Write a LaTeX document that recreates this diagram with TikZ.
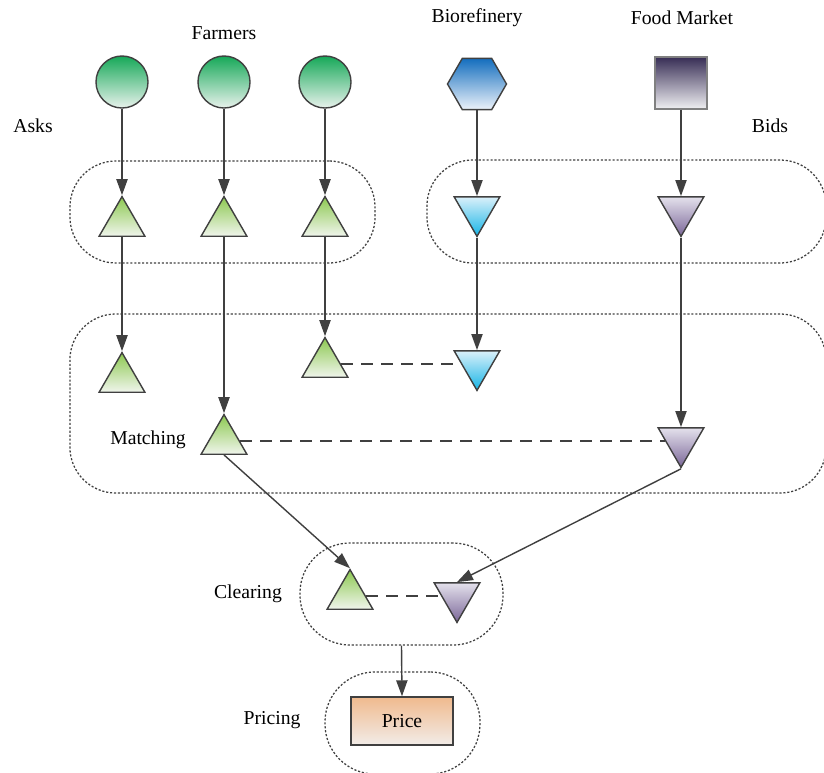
\documentclass[tikz,border=0pt]{standalone}
\usepackage{fontspec}
\setmainfont{Liberation Serif}
\usetikzlibrary{arrows.meta, positioning, shapes.geometric}

\definecolor{edgegray}{RGB}{64,64,64}
\definecolor{farmtop}{RGB}{22,168,88}
\definecolor{farmbot}{RGB}{232,242,236}
\definecolor{asktop}{RGB}{140,200,80}
\definecolor{askbot}{RGB}{240,245,236}
\definecolor{biotop}{RGB}{20,110,190}
\definecolor{biobot}{RGB}{236,242,250}
\definecolor{biobidtop}{RGB}{218,240,250}
\definecolor{biobidbot}{RGB}{20,180,230}
\definecolor{foodtop}{RGB}{55,45,85}
\definecolor{foodbot}{RGB}{240,240,242}
\definecolor{foodbidtop}{RGB}{228,225,236}
\definecolor{foodbidbot}{RGB}{122,102,152}
\definecolor{pricetop}{RGB}{240,186,142}
\definecolor{pricebot}{RGB}{242,236,232}

\begin{document}
\begin{tikzpicture}[
    x=0.025cm, y=-0.025cm,
    every node/.style={font=\fontsize{14}{16}\selectfont},
    farmer/.style={circle, draw=edgegray, line width=1pt, minimum size=1.3cm, inner sep=0pt, top color=farmtop, bottom color=farmbot},
    ask/.style={regular polygon, regular polygon sides=3, draw=edgegray, line width=1pt, minimum size=1.32cm, inner sep=0pt, top color=asktop, bottom color=askbot},
    biobid/.style={regular polygon, regular polygon sides=3, shape border rotate=180, draw=edgegray, line width=1pt, minimum size=1.32cm, inner sep=0pt, top color=biobidtop, bottom color=biobidbot},
    foodbid/.style={regular polygon, regular polygon sides=3, shape border rotate=180, draw=edgegray, line width=1pt, minimum size=1.32cm, inner sep=0pt, top color=foodbidtop, bottom color=foodbidbot},
    group/.style={rectangle, draw=edgegray, line width=0.9pt, dash pattern=on 1.5pt off 1.3pt, inner sep=0pt},
    arrow/.style={-{Triangle[length=0.4cm, width=0.28cm]}, line width=1pt, edgegray},
    match/.style={line width=1pt, edgegray, dash pattern=on 0.3cm off 0.2cm}
]

\useasboundingbox (0,0) rectangle (824,772);
\clip (0,0) rectangle (824,772);

% ============ GROUPS ============
\node[group, rounded corners=1.15cm, minimum width=7.625cm, minimum height=2.55cm] (askgrp) at (222.5,212) {};
\node[group, rounded corners=1.15cm, minimum width=9.975cm, minimum height=2.575cm] (bidgrp) at (626.5,211.5) {};
\node[group, rounded corners=1.15cm, minimum width=18.9cm, minimum height=4.475cm] (matchgrp) at (448,403.5) {};
\node[group, rounded corners=1.25cm, minimum width=5.075cm, minimum height=2.55cm] (cleargrp) at (401.5,594) {};
\node[group, rounded corners=1.25cm, minimum width=3.875cm, minimum height=2.55cm] (pricegrp) at (402.5,723) {};

% ============ LABELS ============
\node (farmlbl) at (224,33) {Farmers};
\node (biolbl) at (477,18) {Biorefinery};
\node (foodlbl) at (682,18) {Food Market};
\node (asklbl) at (33,126) {Asks};
\node (bidlbl) at (770,126) {Bids};
\node (matchlbl) at (148,440) {Matching};
\node (clearlbl) at (248,594) {Clearing};
\node (pricelbl) at (272,720) {Pricing};

% ============ PARTICIPANTS ============
\node[farmer] (f1) at (122,82) {};
\node[farmer] (f2) at (224,82) {};
\node[farmer] (f3) at (325,82) {};
\node[regular polygon, regular polygon sides=6, draw=edgegray, line width=1pt, minimum size=1.475cm, inner sep=0pt, top color=biotop, bottom color=biobot] (bio) at (477,84) {};
\node[rectangle, draw=gray, line width=1pt, minimum size=1.3cm, inner sep=0pt, top color=foodtop, bottom color=foodbot] (food) at (681,83) {};

% ============ ASKS AND BIDS ============
\node[ask] (a1) at (122,223) {};
\node[ask] (a2) at (224,223) {};
\node[ask] (a3) at (325,223) {};
\node[biobid] (b1) at (477,210) {};
\node[foodbid] (b2) at (681,210) {};

% ============ MATCHING ============
\node[ask] (ma1) at (122,379) {};
\node[ask] (ma2) at (224,441) {};
\node[ask] (ma3) at (325,364) {};
\node[biobid] (mb1) at (477,364) {};
\node[foodbid] (mb2) at (681,441) {};

% ============ CLEARING ============
\node[ask] (ca) at (350,596) {};
\node[foodbid] (cb) at (457,596) {};

% ============ PRICING ============
\node[rectangle, draw=edgegray, line width=1pt, minimum width=2.55cm, minimum height=1.2cm, top color=pricetop, bottom color=pricebot] (price) at (402,721) {Price};

% ============ ARROWS ============
\draw[arrow] (f1) -- (a1);
\draw[arrow] (f2) -- (a2);
\draw[arrow] (f3) -- (a3);
\draw[arrow] (bio) -- (b1);
\draw[arrow] (food) -- (b2);

\draw[arrow] (a1) -- (ma1);
\draw[arrow] (a2) -- (ma2);
\draw[arrow] (a3) -- (ma3);
\draw[arrow] (b1) -- (mb1);
\draw[arrow] (b2) -- (mb2);

\draw[arrow] (ma2.south) -- (ca.north);
\draw[arrow] (mb2.south) -- (cb.north);
\draw[arrow] (cleargrp.south) -- (price.north);

% matched pairs
\draw[match] (ma3) -- (mb1);
\draw[match] (ma2) -- (mb2);
\draw[match] (ca) -- (cb);

\end{tikzpicture}
\end{document}
